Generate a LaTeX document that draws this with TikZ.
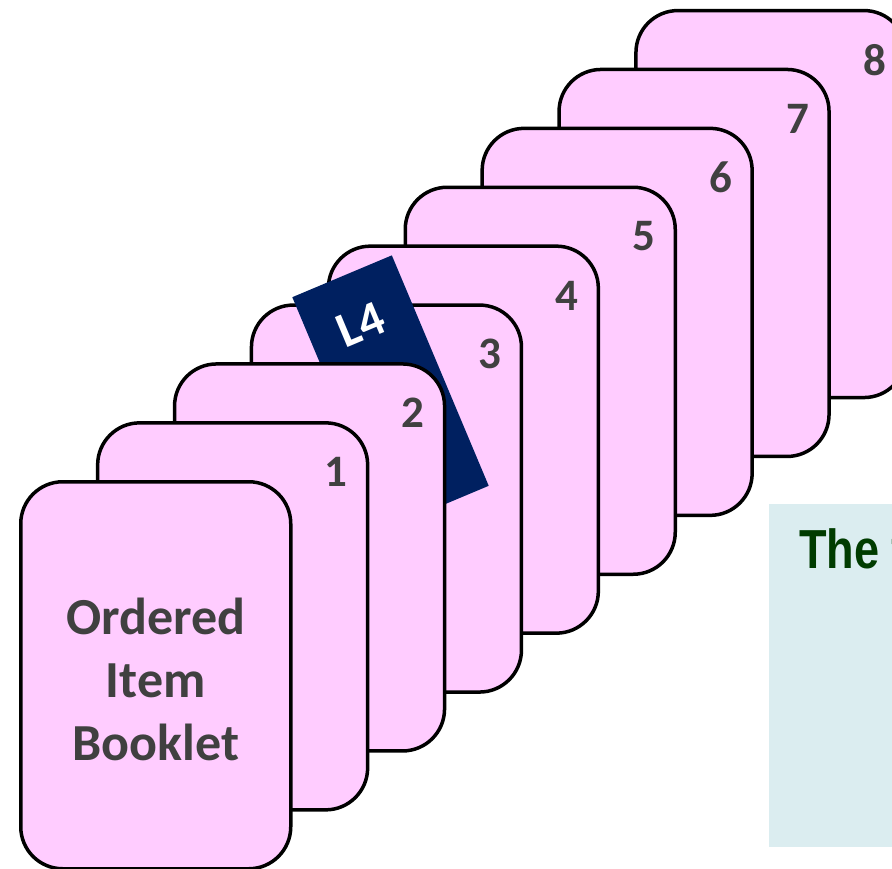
\documentclass[tikz,border=0pt]{standalone}
\usepackage{fontspec}
\setmainfont{Carlito}
\newfontfamily\narrowfont{Liberation Sans}
\definecolor{cardpink}{HTML}{FFCCFF}
\definecolor{bandnavy}{HTML}{002060}
\definecolor{textgray}{HTML}{404040}
\definecolor{boxblue}{HTML}{DBEDF0}
\definecolor{boxgreen}{HTML}{003C00}
\begin{document}
\begin{tikzpicture}[x=1pt,y=-1pt,
  card/.style={draw=black, line width=3.5pt, fill=cardpink, rounded corners=42pt,
    minimum width=270pt, minimum height=387pt, anchor=north west, inner sep=0pt},
  num/.style={text=textgray, font=\fontsize{45}{45}\selectfont\bfseries, inner sep=0pt},
  band/.style={fill=bandnavy, minimum width=108pt, minimum height=250pt, inner sep=0pt, rotate=22.8}]
\useasboundingbox (0,0) rectangle (892,868);
\clip (0,0) rectangle (892,868);
% info box
\node[fill=boxblue, minimum width=140pt, minimum height=343pt, inner sep=0pt, anchor=north west] (box) at (769,504) {};
\node[anchor=base west, inner sep=0pt, text=boxgreen, xscale=0.82,
  font=\narrowfont\fontsize{55}{55}\selectfont\bfseries] (boxtext) at (799,568) {The f};
% back cards
\foreach \i in {8,7,...,3}{
  \node[card] (card\i) at ({19+76.9*\i},{480-58.9*\i}) {};
  \node[num] (num\i) at ([xshift=-33pt,yshift=-51pt]card\i.north east) {\i};
}
% L4 band
\node[band] (l4band) at (390.5,391.5) {};
\node[text=white, font=\fontsize{50}{50}\selectfont\bfseries, rotate=22.8, inner sep=0pt] (l4text) at (361,325) {L4};
% front cards
\foreach \i in {2,1}{
  \node[card] (card\i) at ({19+76.9*\i},{480-58.9*\i}) {};
  \node[num] (num\i) at ([xshift=-33pt,yshift=-51pt]card\i.north east) {\i};
}
\node[card] (card0) at (19,480) {};
\node[text=textgray, align=center, font=\fontsize{52}{63}\selectfont\bfseries, inner sep=0pt]
  (booklet) at ([yshift=-4pt]card0.center) {Ordered\\Item\\Booklet};
\end{tikzpicture}
\end{document}
